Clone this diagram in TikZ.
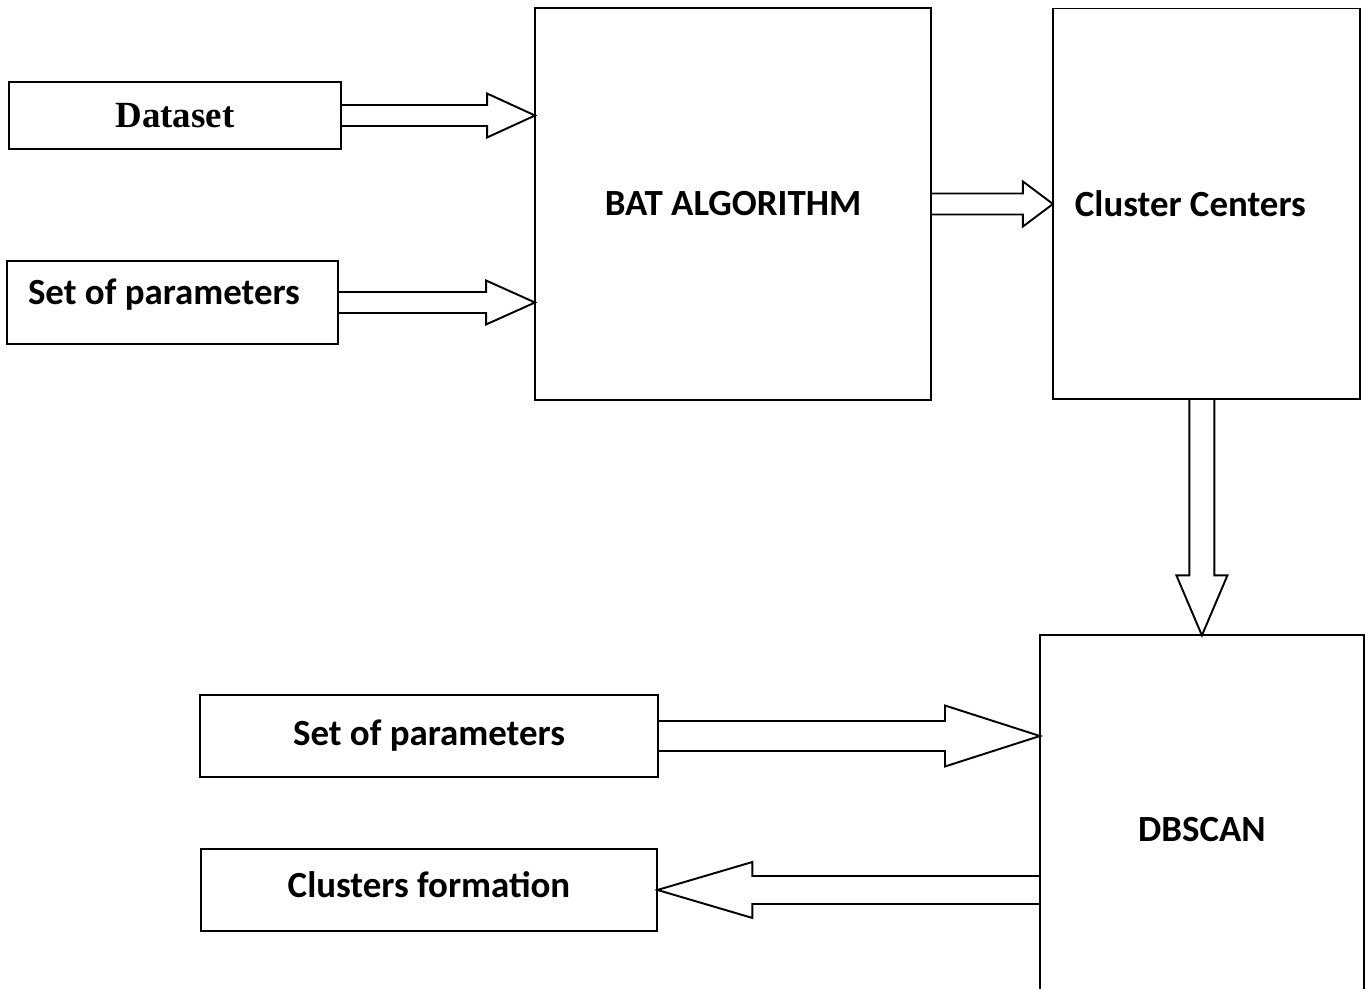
\documentclass[tikz,border=0pt]{standalone}
\usepackage{fontspec}
\setmainfont{Liberation Serif}
\newfontfamily\calibfont{Carlito}
\usetikzlibrary{calc,positioning}
\tikzstyle{box} = [rectangle, draw=black, line width=1.1pt, inner sep=0pt, outer sep=0pt,
    align=center, font=\calibfont\bfseries\fontsize{21}{25}\selectfont]
\tikzstyle{bigarrow} = [draw=black, line width=1.1pt, line join=miter]
% hollow block arrow: from, to, shaft half width, head half width, head length
\newcommand{\blockarrow}[5]{%
  \coordinate (ahead) at ($(#2)!#5!(#1)$);
  \draw[bigarrow] ($(#1)!#3!90:(#2)$) -- ($(ahead)!#3!90:(#2)$) -- ($(ahead)!#4!90:(#2)$)
    -- (#2) -- ($(ahead)!#4!-90:(#2)$) -- ($(ahead)!#3!-90:(#2)$) -- ($(#1)!#3!-90:(#2)$);
}

\begin{document}
\begin{tikzpicture}[x=0.02cm, y=-0.02cm]
\path[use as bounding box, clip] (0,0) rectangle (1372,989);

\node[box, minimum width=6.64cm, minimum height=1.34cm,
  font=\rmfamily\bfseries\fontsize{21}{25}\selectfont] (dataset) at (175,115.5) {Dataset};
\node[box, minimum width=6.62cm, minimum height=1.66cm, text depth=0.44cm, inner xsep=0.42cm, text width=5.78cm,
  align=flush left] (params) at (172.5,302.5) {Set of parameters};
\node[box, minimum width=7.92cm, minimum height=7.84cm] (bat) at (733,204) {BAT ALGORITHM};
\node[box, minimum width=6.14cm, minimum height=7.82cm, inner xsep=0.44cm, text width=5.26cm, align=flush left,
  right=2.44cm of bat] (centers) {Cluster Centers};
\node[box, minimum width=6.48cm, minimum height=7.76cm, below=4.72cm of centers, xshift=-0.09cm] (dbscan) {DBSCAN};
\node[box, minimum width=9.16cm, minimum height=1.64cm] (dbparams) at (429,736) {Set of parameters};
\node[box, minimum width=9.14cm, minimum height=1.64cm, text depth=0.2cm, below=1.44cm of dbparams] (formation) {Clusters formation};

\coordinate (a1) at (dataset.east -| bat.west);
\coordinate (a2) at (params.east -| bat.west);
\coordinate (a4) at (dbscan.north |- centers.south);
\coordinate (a5) at (dbparams.east -| dbscan.west);
\coordinate (a6) at (dbscan.west |- formation.east);

\blockarrow{dataset.east}{a1}{0.21cm}{0.44cm}{0.96cm}
\blockarrow{params.east}{a2}{0.21cm}{0.44cm}{0.98cm}
\blockarrow{bat.east}{centers.west}{0.21cm}{0.45cm}{0.6cm}
\blockarrow{a4}{dbscan.north}{0.25cm}{0.51cm}{1.2cm}
\blockarrow{dbparams.east}{a5}{0.3cm}{0.61cm}{1.9cm}
\blockarrow{a6}{formation.east}{0.28cm}{0.56cm}{1.9cm}
\end{tikzpicture}
\end{document}
